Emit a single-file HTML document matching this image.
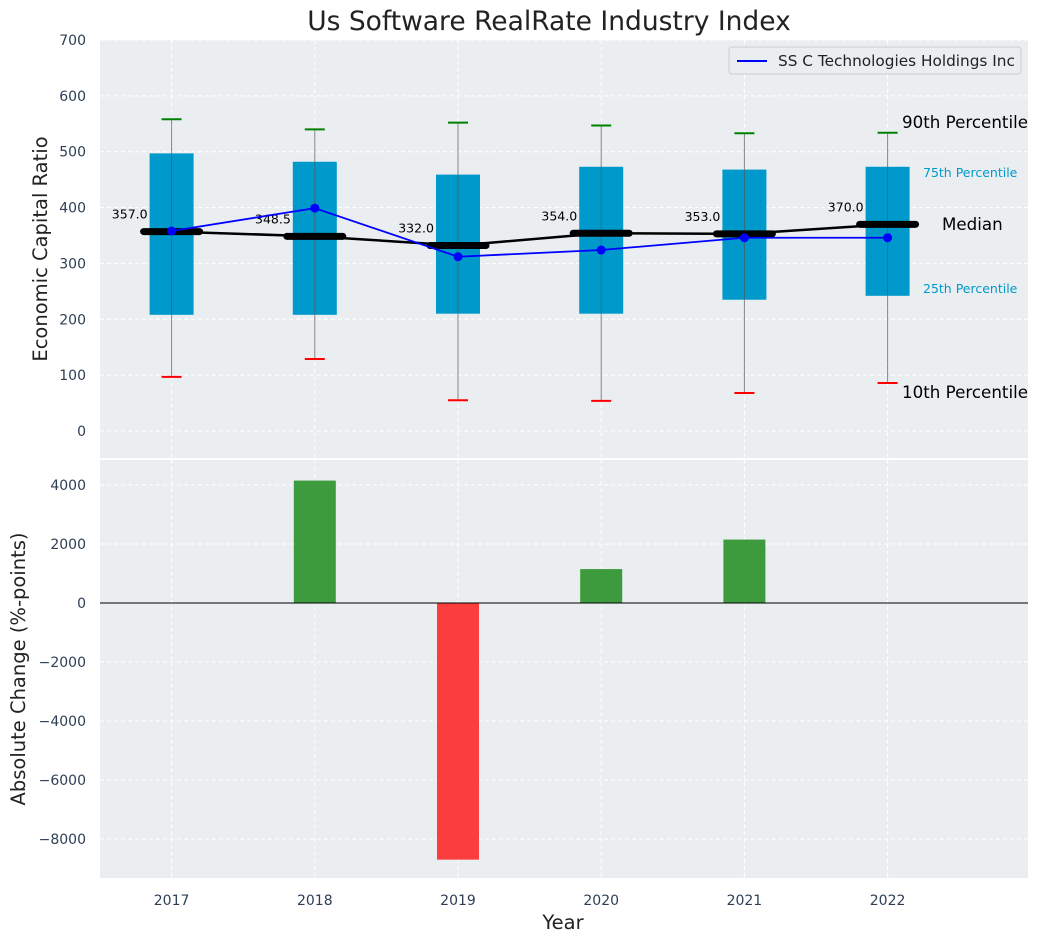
<!DOCTYPE html>
<html><head><meta charset="utf-8"><style>
body{margin:0;background:#fff;}
svg{display:block;font-family:"DejaVu Sans","Liberation Sans",sans-serif;}
.tick{fill:#2e3f55;font-size:14px;}
</style></head><body>
<svg id="chart" width="1039" height="942" xmlns="http://www.w3.org/2000/svg">
<text x="549" y="30" text-anchor="middle" font-size="26.5" fill="#222">Us Software RealRate Industry Index</text>
<rect x="100" y="40" width="928" height="418" fill="#eaeef0"/>
<rect x="100" y="460" width="928" height="418" fill="#eaeef0"/>
<g id="topg"></g><g id="botg"></g>
<text transform="translate(47,249) rotate(-90)" text-anchor="middle" font-size="19.5" fill="#222">Economic Capital Ratio</text>
<text transform="translate(25,669) rotate(-90)" text-anchor="middle" font-size="19.5" fill="#222">Absolute Change (%-points)</text>
<text x="563" y="929" text-anchor="middle" font-size="19.5" fill="#222">Year</text>
<g>
<rect x="729" y="47" width="292" height="27" rx="3" fill="#eaeef0" stroke="#ccc"/>
<line x1="737" y1="61" x2="767" y2="61" stroke="#0000ff" stroke-width="2"/>
<text x="778" y="66" font-size="15.3" fill="#222">SS C Technologies Holdings Inc</text>
</g>
<g>
<text x="902" y="128" font-size="16.7" fill="#000">90th Percentile</text>
<text x="923" y="177" font-size="12.5" fill="#0099cc">75th Percentile</text>
<text x="942" y="230" font-size="16.7" fill="#000">Median</text>
<text x="923" y="293" font-size="12.5" fill="#0099cc">25th Percentile</text>
<text x="902" y="398" font-size="16.7" fill="#000">10th Percentile</text>
</g>
</svg>
<script>
const years=[2017,2018,2019,2020,2021,2022];
const p10=[97,129,55,54,68,86];
const p25=[208,208,210,210,235,242];
const p50=[357,348.5,332,354,353,370];
const p75=[497,482,459,473,468,473];
const p90=[558,540,552,547,533,534];
const company=[358,399,312,324,346,346];
const changes=[0,4150,-8700,1150,2150,0];
const topTicks=[0,100,200,300,400,500,600,700];
const botTicks=[-8000,-6000,-4000,-2000,0,2000,4000];
const NS="http://www.w3.org/2000/svg";
const X=v=>100+(v-2016.5)*143.2;
const YT=v=>431-v*0.5586;
const YB=v=>603-v*0.0295;
function mk(p,t,a){const e=document.createElementNS(NS,t);for(const k in a)e.setAttribute(k,a[k]);p.appendChild(e);return e;}
const tg=document.getElementById('topg'),bg=document.getElementById('botg');
years.forEach(y=>{
 let g=mk(tg,'line',{x1:X(y),x2:X(y),y1:40,y2:458,stroke:'#fff','stroke-dasharray':'4,3'});
 
 
 let g2=mk(bg,'line',{x1:X(y),x2:X(y),y1:460,y2:878,stroke:'#fff','stroke-dasharray':'4,3'});
 
 
 let t=mk(bg,'text',{x:X(y),y:905,'text-anchor':'middle',class:'tick'});t.textContent=y;
 
 
});
topTicks.forEach(v=>{
 let g=mk(tg,'line',{x1:100,x2:1028,y1:YT(v),y2:YT(v),stroke:'#fff','stroke-dasharray':'4,3'});
 
 
 let t=mk(tg,'text',{x:86,y:YT(v)+5,'text-anchor':'end',class:'tick'});t.textContent=v;
 
 
});
botTicks.forEach(v=>{
 let g=mk(bg,'line',{x1:100,x2:1028,y1:YB(v),y2:YB(v),stroke:'#fff','stroke-dasharray':'4,3'});
 
 
 let t=mk(bg,'text',{x:86,y:YB(v)+5,'text-anchor':'end',class:'tick'});t.textContent=v<0?'\u2212'+(-v):v;
 
 
});
years.forEach((y,i)=>{
 const cx=X(y);
 let b=mk(tg,'rect',{x:cx-22,y:YT(p75[i]),width:44,height:YT(p25[i])-YT(p75[i]),fill:'#0099cc'});
 
 
 let w=mk(tg,'line',{x1:cx,x2:cx,y1:YT(p90[i]),y2:YT(p10[i]),stroke:'#555','stroke-opacity':0.7,'stroke-width':1});
 
 
 let c1=mk(tg,'line',{x1:cx-10,x2:cx+10,y1:YT(p90[i]),y2:YT(p90[i]),stroke:'green','stroke-width':2});
 
 
 let c2=mk(tg,'line',{x1:cx-10,x2:cx+10,y1:YT(p10[i]),y2:YT(p10[i]),stroke:'red','stroke-width':2});
 
 
});
let mp=years.map((y,i)=>X(y)+','+YT(p50[i])).join(' ');
let ml=mk(tg,'polyline',{points:mp,fill:'none',stroke:'#000','stroke-width':2.5});


years.forEach((y,i)=>{
 const cx=X(y);
 let m=mk(tg,'line',{x1:cx-28,x2:cx+28,y1:YT(p50[i]),y2:YT(p50[i]),stroke:'#000','stroke-width':7,'stroke-linecap':'round'});
 
 
 let t=mk(tg,'text',{x:cx-24,y:YT(p50[i])-13,'text-anchor':'end','font-size':12.5,fill:'#000'});t.textContent=p50[i].toFixed(1);
 
 
});
let cp=years.map((y,i)=>X(y)+','+YT(company[i])).join(' ');
let cl=mk(tg,'polyline',{points:cp,fill:'none',stroke:'#0000ff','stroke-width':1.8});


years.forEach((y,i)=>{
 let d=mk(tg,'circle',{cx:X(y),cy:YT(company[i]),r:4.5,fill:'#0000ff'});
 
 
});
years.forEach((y,i)=>{
 const v=changes[i]; if(!v) return;
 let r=mk(bg,'rect',{x:X(y)-21,y:Math.min(YB(v),YB(0)),width:42,height:Math.abs(YB(v)-YB(0)),fill:v>0?'#3d9b3d':'#fc3d3d'});
 
 
});
let z=mk(bg,'line',{x1:100,x2:1028,y1:YB(0),y2:YB(0),stroke:'#000','stroke-width':1});


</script>
</body></html>
